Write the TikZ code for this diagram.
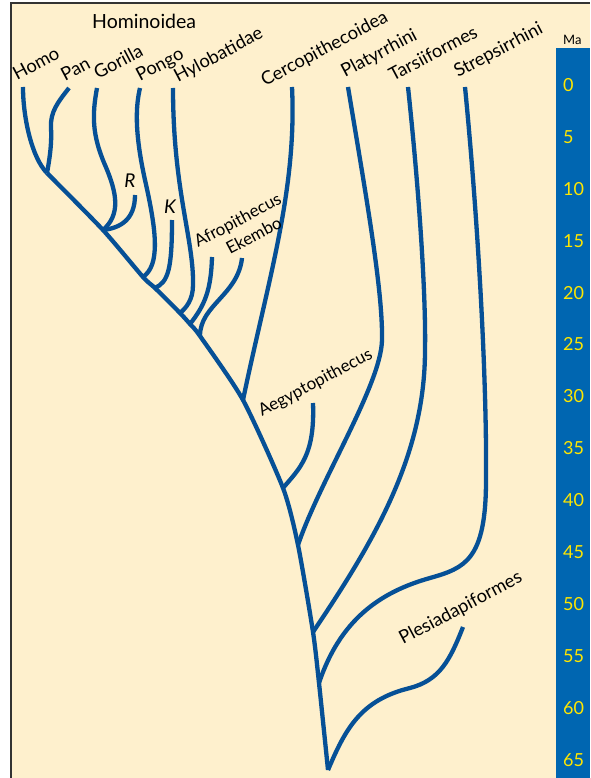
\documentclass[tikz,border=0pt]{standalone}
\usepackage{fontspec}
\setmainfont{Lato}
\definecolor{cream}{HTML}{FEF0CD}
\definecolor{branch}{HTML}{065096}
\definecolor{barblue}{HTML}{0066B1}
\definecolor{numyellow}{HTML}{FFE600}
\definecolor{frame}{HTML}{333333}
\begin{document}
\begin{tikzpicture}[x=1pt,y=-1pt,
  br/.style={draw=branch, line width=4.3pt, line join=round},
  lab/.style={font=\fontsize{18.3}{18.3}\selectfont, anchor=base west, rotate=28, inner sep=0pt},
  smalllab/.style={lab, font=\fontsize{17}{17}\selectfont},
  num/.style={font=\fontsize{18}{18}\selectfont, text=numyellow, anchor=west, inner sep=0pt}]
\useasboundingbox (0,0) rectangle (590,778);
\fill[white] (0,0) rectangle (590,778);
\fill[cream] (11,3) rectangle (590,778);
\fill[barblue] (556,48) rectangle (590,778);
\draw[line width=1.5pt, frame] (11,778) -- (11,3) -- (590,3);

% tips
\coordinate (HomoT) at (23,87);
\coordinate (PanT) at (69,88);
\coordinate (GorT) at (97,88);
\coordinate (RT) at (135,195);
\coordinate (PonT) at (140,88);
\coordinate (KT) at (172,220);
\coordinate (HylT) at (173,88);
\coordinate (AfrT) at (212,257);
\coordinate (EkeT) at (242,258);
\coordinate (CerT) at (292,87);
\coordinate (AegT) at (313,403);
\coordinate (PlaT) at (348,87);
\coordinate (TarT) at (408,87);
\coordinate (StrT) at (465,87);
\coordinate (PleT) at (463,627);
% junctions
\coordinate (jHP) at (47,173);
\coordinate (jG) at (103,230);
\coordinate (jPo) at (143,277);
\coordinate (jK) at (155,288);
\coordinate (jHy) at (180,313);
\coordinate (jAf) at (190,324);
\coordinate (jEk) at (200,336);
\coordinate (jCe) at (243,400);
\coordinate (jAe) at (283,488);
\coordinate (jPl) at (298,545);
\coordinate (jTa) at (313,632);
\coordinate (jSt) at (319,683);
\coordinate (root) at (328,770);

% trunk
\draw[br] plot[smooth, tension=0.4] coordinates {(root) (jSt) (jTa) (jPl) (jAe) (jCe) (jEk) (jAf) (jHy) (jK) (jPo) (jG) (jHP)};
% branches
\draw[br] (jHP) .. controls (32,158) and (23,118) .. (HomoT);
\draw[br] (PanT) .. controls (58,102) and (50,112) .. (51,128) .. controls (52,145) and (49,162) .. (jHP);
\draw[br] (GorT) .. controls (92,115) and (92,135) .. (105,165) .. controls (118,195) and (120,215) .. (jG);
\draw[br] (RT) .. controls (135,220) and (120,228) .. (jG);
\draw[br] (PonT) .. controls (136,105) and (134,130) .. (145,180) .. controls (157,233) and (160,265) .. (jPo);
\draw[br] (KT) .. controls (172,270) and (168,282) .. (jK);
\draw[br] (HylT) .. controls (173,190) and (194,240) .. (193,285) .. controls (193,300) and (186,308) .. (jHy);
\draw[br] (AfrT) .. controls (211,290) and (205,305) .. (jAf);
\draw[br] (EkeT) .. controls (238,295) and (200,305) .. (jEk);
\draw[br] (CerT) .. controls (297,190) and (268,280) .. (jCe);
\draw[br] (AegT) .. controls (315,455) and (300,468) .. (jAe);
\draw[br] (PlaT) .. controls (365,190) and (383,290) .. (382,340) .. controls (381,385) and (320,480) .. (jPl);
\draw[br] (TarT) .. controls (420,200) and (426,300) .. (425,350) .. controls (425,455) and (375,540) .. (jTa);
\draw[br] (StrT) .. controls (478,220) and (487,380) .. (486,480) .. controls (486,560) and (465,568) .. (430,578) .. controls (380,592) and (340,620) .. (jSt);
\draw[br] (root) .. controls (345,730) and (360,700) .. (410,688) .. controls (440,680) and (450,660) .. (PleT);

% labels
\node[font=\fontsize{19.5}{19.5}\selectfont, anchor=base west, inner sep=0pt] (lHom) at (92,29) {Hominoidea};
\node[lab] (lHomo) at (17,81) {Homo};
\node[lab] (lPan) at (65,82) {Pan};
\node[lab] (lGor) at (98,80) {Gorilla};
\node[lab] (lPon) at (140,82) {Pongo};
\node[lab] (lHyl) at (178,83) {Hylobatidae};
\node[lab] (lCer) at (265,87) {Cercopithecoidea};
\node[lab] (lPla) at (345,78) {Platyrrhini};
\node[lab] (lTar) at (393,82) {Tarsiiformes};
\node[lab] (lStr) at (458,78) {Strepsirrhini};
\node[smalllab] (lAfr) at (198,248) {Afropithecus};
\node[smalllab] (lEke) at (230,255) {Ekembo};
\node[smalllab] (lAeg) at (262,417) {Aegyptopithecus};
\node[lab] (lPle) at (403,645) {Plesiadapiformes};
\node[font=\fontsize{19}{19}\selectfont\itshape, inner sep=0pt] (lR) at (130,181) {R};
\node[font=\fontsize{19}{19}\selectfont\itshape, inner sep=0pt] (lK) at (170,207) {K};

% axis
\node[font=\fontsize{13}{13}\selectfont, anchor=west, inner sep=0pt] (lMa) at (563,40) {Ma};
\foreach \t in {0,5,...,65} \node[num] (n\t) at (563,{85+10.38*\t}) {\t};
\end{tikzpicture}
\end{document}
